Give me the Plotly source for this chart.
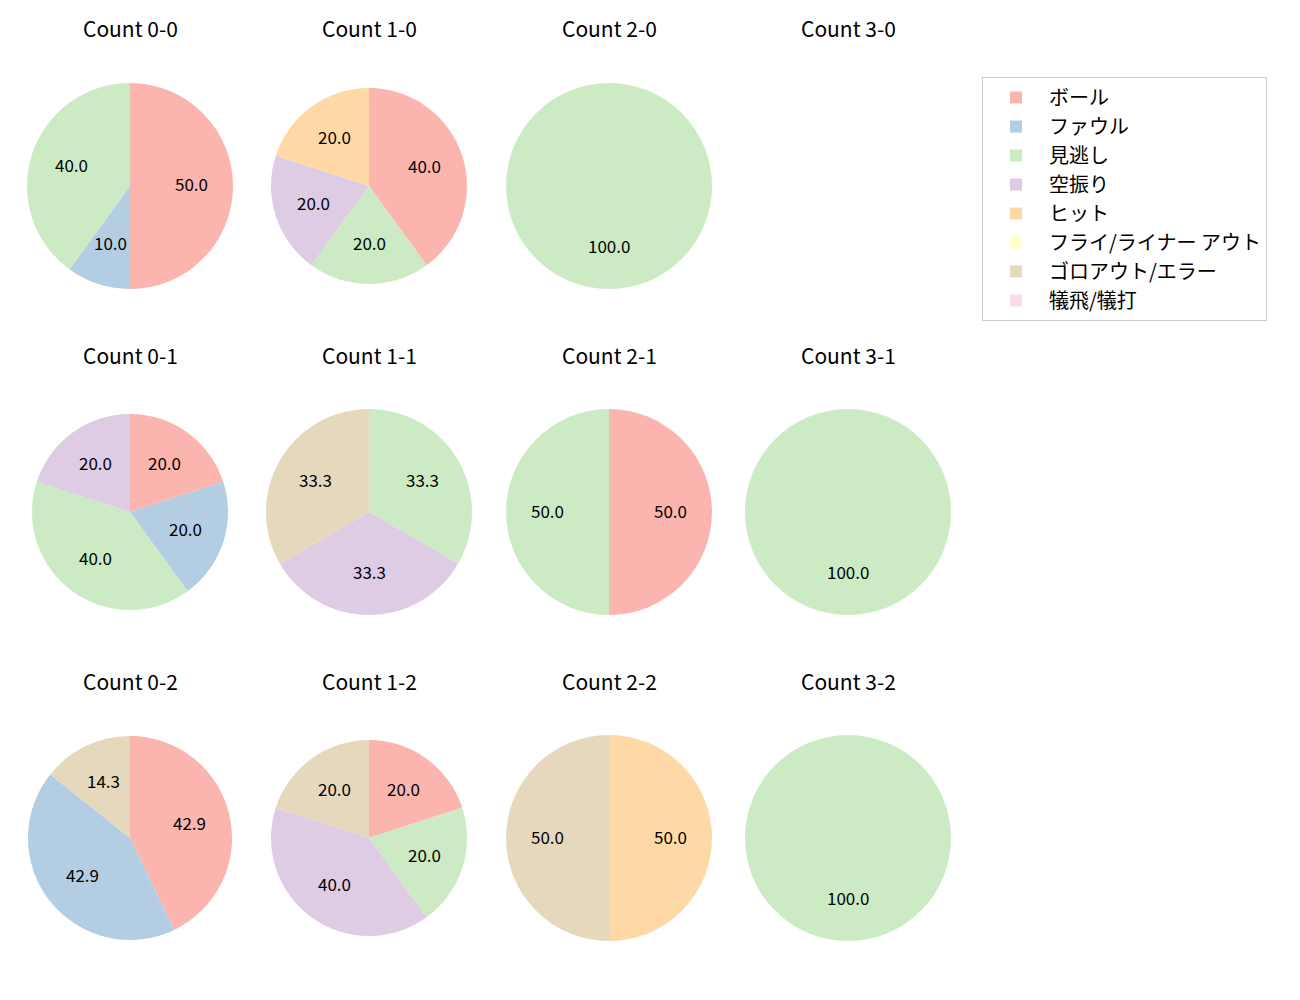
import math
import plotly.graph_objects as go

labels = ["ボール", "ファウル", "見逃し", "空振り", "ヒット",
          "フライ/ライナー アウト", "ゴロアウト/エラー", "犠飛/犠打"]
colors = ["#fbb4ae", "#b3cde3", "#ccebc5", "#decbe4", "#fed9a6",
          "#ffffcc", "#e5d8bd", "#fddaec"]

# percentages per count, in label order
counts = ["0-0", "1-0", "2-0", "3-0",
          "0-1", "1-1", "2-1", "3-1",
          "0-2", "1-2", "2-2", "3-2"]
c00 = [50.0, 10.0, 40.0, 0, 0, 0, 0, 0]
c10 = [40.0, 0, 20.0, 20.0, 20.0, 0, 0, 0]
c20 = [0, 0, 100.0, 0, 0, 0, 0, 0]
c30 = [0, 0, 0, 0, 0, 0, 0, 0]
c01 = [20.0, 20.0, 40.0, 20.0, 0, 0, 0, 0]
c11 = [0, 0, 33.3, 33.3, 0, 0, 33.3, 0]
c21 = [50.0, 0, 50.0, 0, 0, 0, 0, 0]
c31 = [0, 0, 100.0, 0, 0, 0, 0, 0]
c02 = [42.9, 42.9, 0, 0, 0, 0, 14.3, 0]
c12 = [20.0, 0, 20.0, 40.0, 0, 0, 20.0, 0]
c22 = [0, 0, 0, 0, 50.0, 0, 50.0, 0]
c32 = [0, 0, 100.0, 0, 0, 0, 0, 0]
data = [c00, c10, c20, c30, c01, c11, c21, c31, c02, c12, c22, c32]

W, H = 1300, 1000
OFF = 8  # page body margin
col_x = [130, 369, 609, 848]
row_y = [186, 512, 838]
title_y = [29, 356, 682]
radius = [103, 98, 103, 103, 98, 103, 103, 103, 102, 98, 103, 103]

FONT = "Noto Sans CJK JP, Noto Sans, sans-serif"


def px(x, y):
    return (x - OFF) / W, 1 - (y - OFF) / H


fig = go.Figure()
for i, (name, vals) in enumerate(zip(counts, data)):
    r, c = divmod(i, 4)
    cx, cy, rad = col_x[c], row_y[r], radius[i]
    total = sum(vals)
    if total > 0:
        x0, y0 = px(cx - rad, cy + rad)
        x1, y1 = px(cx + rad, cy - rad)
        fig.add_trace(go.Pie(
            labels=labels,
            values=vals,
            textinfo="none",
            marker=dict(colors=colors, line=dict(width=0)),
            sort=False,
            direction="clockwise",
            rotation=0,
            hoverinfo="label+percent",
            domain=dict(x=[x0, x1], y=[y0, y1]),
            showlegend=(i == 0),
        ))
        # percentage labels at 0.6 radius on each slice bisector
        cum = 0
        for v in vals:
            if v > 0:
                ang = math.radians(90 - 360 * (cum + v / 2) / total)
                lx, ly = px(cx + 0.6 * rad * math.cos(ang),
                            cy - 0.6 * rad * math.sin(ang) - 2)
                fig.add_annotation(text=f"{v:.1f}", x=lx, y=ly,
                                   xref="paper", yref="paper", showarrow=False,
                                   font=dict(size=17, color="black", family=FONT),
                                   xanchor="center", yanchor="middle")
            cum += v
    tx, ty = px(cx, title_y[r] - 1)
    fig.add_annotation(text=f"Count {name}", x=tx, y=ty,
                       xref="paper", yref="paper", showarrow=False,
                       font=dict(size=21, color="black", family=FONT),
                       xanchor="center", yanchor="middle")

lx, ly = px(982, 77)
fig.update_layout(
    width=W, height=H,
    margin=dict(l=0, r=0, t=0, b=0),
    paper_bgcolor="white",
    plot_bgcolor="white",
    font=dict(family=FONT),
    legend=dict(
        x=lx, y=ly, xanchor="left", yanchor="top",
        bgcolor="white", bordercolor="#cccccc", borderwidth=1,
        font=dict(size=20, color="black", family=FONT),
        itemwidth=56,
        traceorder="normal",
    ),
)

fig.write_html("out.html")
